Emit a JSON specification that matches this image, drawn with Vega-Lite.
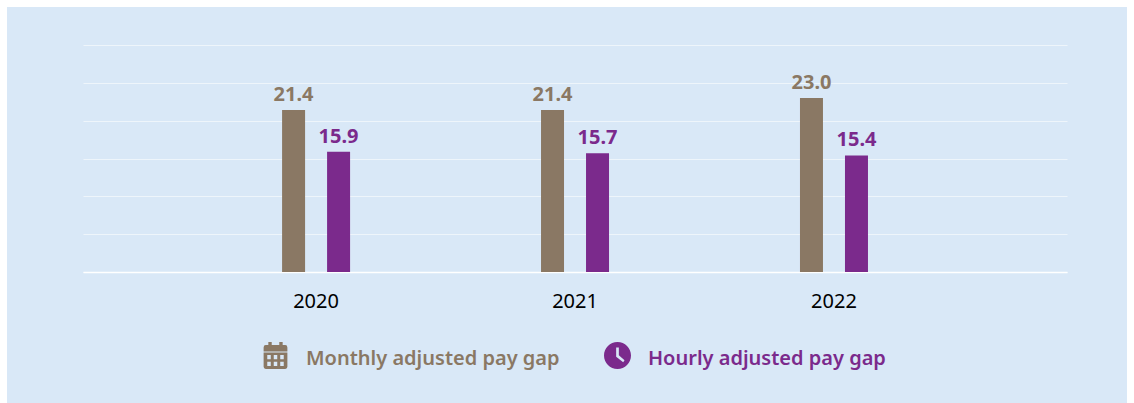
{
"$schema":"https://vega.github.io/schema/vega-lite/v6.json",
"width":1120,"height":396,
"padding":{"left":7,"top":7,"right":7,"bottom":0},
"autosize":{"type":"none"},
"background":"#ffffff",
"view":{"fill":"#d9e8f7","stroke":null},
"config":{"font":"Noto Sans"},
"data":{"values":[
{"year":"2020","series":"Monthly adjusted pay gap","gap":21.4},
{"year":"2020","series":"Hourly adjusted pay gap","gap":15.9},
{"year":"2021","series":"Monthly adjusted pay gap","gap":21.4},
{"year":"2021","series":"Hourly adjusted pay gap","gap":15.7},
{"year":"2022","series":"Monthly adjusted pay gap","gap":23.0},
{"year":"2022","series":"Hourly adjusted pay gap","gap":15.4}
]},
"encoding":{
"x":{"field":"year","type":"nominal","scale":{"type":"band","range":[76,1060],"paddingInner":0,"paddingOuter":0.4},
"axis":{"title":null,"labelAngle":0,"labelFontSize":20,"labelColor":"#000000","labelPadding":19,"ticks":false,"domainColor":"#ffffff","domainWidth":1.5,"offset":-131}},
"xOffset":{"field":"series","type":"nominal","scale":{"type":"band","domain":["Monthly adjusted pay gap","Hourly adjusted pay gap"],"range":[95.5,163.5],"paddingInner":0.489,"paddingOuter":0}},
"y":{"field":"gap","type":"quantitative","scale":{"domain":[0,30],"range":[265,38]},
"axis":{"title":null,"labels":false,"ticks":false,"domain":false,"values":[0,5,10,15,20,25,30],"grid":true,"gridColor":"#eef5fb","gridWidth":1}},
"color":{"field":"series","type":"nominal","scale":{"domain":["Monthly adjusted pay gap","Hourly adjusted pay gap"],"range":["#8a7864","#7b2a8c"]},
"legend":{"title":null,"orient":"none","legendX":255,"legendY":335,"direction":"horizontal","columns":2,"gridAlign":"each","columnPadding":44,"labelFontSize":20,"labelFontWeight":600,"labelOffset":17,"symbolSize":729,"symbolStrokeWidth":0,"labelLimit":400,
"encode":{
"symbols":{"update":{"shape":{"signal":"datum.value==='Monthly adjusted pay gap' ? 'M-0.53,-1L-0.28,-1L-0.28,-0.77L0.28,-0.77L0.28,-1L0.53,-1L0.53,-0.77L0.72,-0.77Q0.88,-0.77,0.88,-0.6L0.88,-0.3L-0.88,-0.3L-0.88,-0.6Q-0.88,-0.77,-0.72,-0.77L-0.53,-0.77ZM-0.88,-0.22L0.88,-0.22L0.88,0.84Q0.88,1,0.72,1L-0.72,1Q-0.88,1,-0.88,0.84ZM-0.61,-0.03L-0.61,0.27L-0.35,0.27L-0.35,-0.03ZM-0.13,-0.03L-0.13,0.27L0.13,0.27L0.13,-0.03ZM0.35,-0.03L0.35,0.27L0.61,0.27L0.61,-0.03ZM-0.61,0.47L-0.61,0.77L-0.35,0.77L-0.35,0.47ZM-0.13,0.47L-0.13,0.77L0.13,0.77L0.13,0.47ZM0.35,0.47L0.35,0.77L0.61,0.77L0.61,0.47Z' : 'M0,-1A1,1,0,1,1,0,1A1,1,0,1,1,0,-1ZM-0.1,-0.6L-0.1,0.1L0.42,0.5L0.52,0.36L0.1,-0.02L0.1,-0.6Z'"}}},
"labels":{"update":{"dy":{"value":3},"fill":{"signal":"datum.value==='Monthly adjusted pay gap' ? '#8a7864' : '#7b2a8c'"}}}
}}}
},
"layer":[
{"mark":{"type":"bar"}},
{"mark":{"type":"text","fontSize":20,"fontWeight":"bold","dy":-15},
"encoding":{"text":{"field":"gap","type":"quantitative","format":".1f"}}}
]
}
